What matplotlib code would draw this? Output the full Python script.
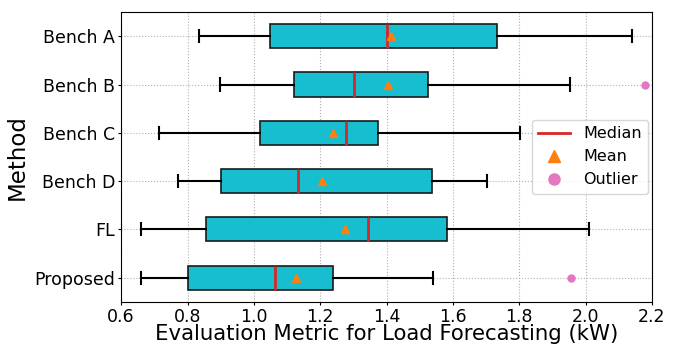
import matplotlib
matplotlib.use("Agg")
import matplotlib.pyplot as plt
from matplotlib.lines import Line2D

# values (kW)
methods = ["Bench A", "Bench B", "Bench C", "Bench D", "FL", "Proposed"]
whisker_lo = [0.835, 0.898, 0.713, 0.770, 0.659, 0.659]
q1 = [1.049, 1.120, 1.018, 0.900, 0.856, 0.801]
median = [1.400, 1.303, 1.279, 1.134, 1.345, 1.063]
mean = [1.414, 1.404, 1.238, 1.204, 1.276, 1.126]
q3 = [1.733, 1.524, 1.373, 1.536, 1.582, 1.238]
whisker_hi = [2.139, 1.954, 1.803, 1.704, 2.010, 1.540]
outliers = [[], [2.179], [], [], [], [1.956]]

stats = []
for i, name in enumerate(methods):
    stats.append({"label": name, "whislo": whisker_lo[i], "q1": q1[i], "med": median[i],
                  "mean": mean[i], "q3": q3[i], "whishi": whisker_hi[i], "fliers": outliers[i]})

fig, ax = plt.subplots(figsize=(6.77, 3.46), dpi=100)
fig.subplots_adjust(left=0.179, right=0.963, top=0.965, bottom=0.128)

pos = list(range(len(methods), 0, -1))  # Bench A on top
ax.bxp(stats, positions=pos, vert=False, widths=0.5, patch_artist=True,
       showmeans=True, showfliers=True,
       boxprops=dict(facecolor="#17becf", edgecolor="#1a1a1a", linewidth=1.2),
       medianprops=dict(color="#d62728", linewidth=2),
       meanprops=dict(marker="^", markerfacecolor="#ff7f0e", markeredgecolor="#ff7f0e", markersize=6),
       flierprops=dict(marker="o", markerfacecolor="#e377c2", markeredgecolor="#e377c2", markersize=5),
       whiskerprops=dict(color="black", linewidth=1.5),
       capprops=dict(color="black", linewidth=1.5))

ax.set_xlim(0.6, 2.2)
ax.set_ylim(0.5, len(methods) + 0.5)
ax.set_xticks([0.6, 0.8, 1.0, 1.2, 1.4, 1.6, 1.8, 2.0, 2.2])
ax.tick_params(labelsize=12.5, length=2.5, pad=2)
ax.grid(True, linestyle=":", color="#b0b0b0", linewidth=0.8)
ax.set_axisbelow(True)
ax.set_xlabel("Evaluation Metric for Load Forecasting (kW)", fontsize=15.3, labelpad=-1.2)
ax.set_ylabel("Method", fontsize=16.5, labelpad=4)

handles = [Line2D([], [], color="#d62728", linewidth=2),
           Line2D([], [], marker="^", color="#ff7f0e", linestyle="none", markersize=8),
           Line2D([], [], marker="o", color="#e377c2", linestyle="none", markersize=8)]
ax.legend(handles, ["Median", "Mean", "Outlier"], loc="center right", fontsize=11.5,
          borderaxespad=0.25, handletextpad=0.8)

fig.savefig("out.png")
